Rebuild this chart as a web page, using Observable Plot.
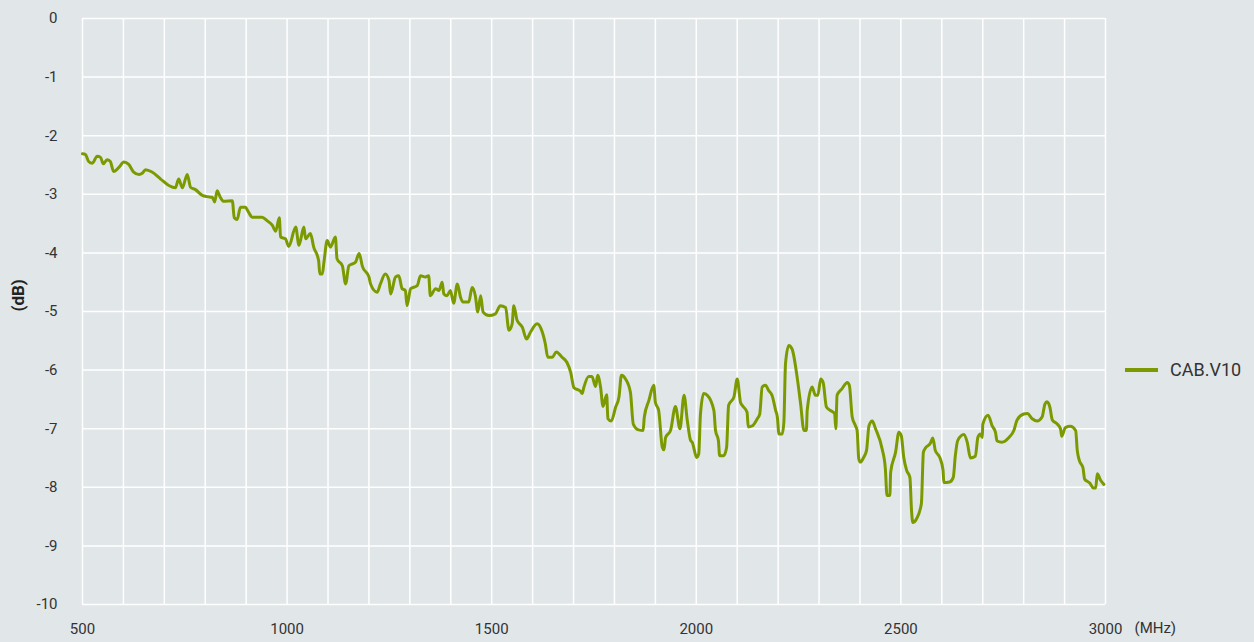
<!DOCTYPE html>
<html><head><meta charset="utf-8">
<script src="https://cdn.jsdelivr.net/npm/d3@7"></script>
<script src="https://cdn.jsdelivr.net/npm/@observablehq/plot@0.6"></script>
<style>
html,body{margin:0;padding:0;background:#e1e6e9;}
#wrap{position:relative;width:1254px;height:642px;font-family:Roboto,"Noto Sans",sans-serif;}
#legend{position:absolute;left:1125px;top:359px;display:flex;align-items:center;font-size:18px;color:#333;}
#legend .sw{display:inline-block;width:33px;height:4px;background:#7c9a00;margin-right:12px;}
</style></head><body><div id="wrap"></div>
<script>
const seriesName = "CAB.V10";
const freqMHz = [500,507,515,524,536,544,551,560,568,576,589,601,613,625,638,646,654,670,691,711,727,735,744,756,764,776,793,805,817,823,829,836,845,866,871,878,886,898,906,915,939,951,964,972,981,984,996,1004,
1021,1029,1041,1045,1057,1065,1077,1080,1086,1090,1098,1106,1118,1122,1135,1143,1151,1167,1176,1184,1200,1204,1220,1228,1240,1249,1253,1265,1273,1281,1289,1293,1302,1318,1326,1338,1346,1350,1363,1371,1379,1383,1391,1399,1407,1416,1424,1430,1444,1452,1460,1466,1473,1479,1493,1509,1521,1534,1542,1550,1554,1562,1575,1585,1595,1611,1621,1631,1637,1648,1658,1672,1684,1693,1701,1717,1721,1725,1737,1745,1754,1759,1766,1772,1781,1784,1792,1803,1811,1817,1827,1839,1846,1859,1870,1873,1884,1896,1900,1908,1917,1921,1925,1937,1949,1960,1970,1978,1986,1990,2001,2006,2010,2018,2027,2043,2047,2054,2057,2067,2074,2079,2092,2100,2108,2112,2124,2127,2137,2149,2155,2161,2169,2177,2185,2194,2198,2202,2210,2214,2218,2226,2234,2247,2255,2263,2269,2271,2283,2291,2297,2304,2310,2318,2328,2338,2341,2344,2356,2369,2374,2381,2389,2393,2397,2401,2409,2416,2422,2430,2438,2454,2462,2466,2473,2475,2487,2495,2501,2507,2514,2522,2526,2529,2538,2550,2555,2560,2572,2578,2584,2595,2603,2605,2619,2628,2633,2639,2654,2662,2670,2682,2688,2694,2699,2700,2713,2723,2731,2735,2747,2764,2776,2784,2800,2809,2821,2833,2845,2852,2857,2864,2870,2882,2890,2893,2902,2914,2927,2931,2936,2945,2949,2962,2970,2976,2980,2988,2996];
const lossDB = [-2.31,-2.32,-2.44,-2.47,-2.35,-2.37,-2.48,-2.41,-2.44,-2.61,-2.54,-2.45,-2.49,-2.62,-2.66,-2.64,-2.58,-2.62,-2.74,-2.85,-2.89,-2.74,-2.89,-2.66,-2.88,-2.92,-3.02,-3.04,-3.05,-3.13,-2.94,-3.04,-3.12,-3.11,-3.40,-3.43,-3.22,-3.22,-3.31,-3.39,-3.39,-3.45,-3.53,-3.63,-3.40,-3.73,-3.76,-3.89,
-3.56,-3.87,-3.56,-3.76,-3.67,-3.90,-4.13,-4.36,-4.36,-4.16,-3.79,-3.90,-3.73,-4.10,-4.22,-4.53,-4.22,-4.16,-4.01,-4.23,-4.41,-4.53,-4.67,-4.53,-4.36,-4.47,-4.70,-4.41,-4.39,-4.61,-4.64,-4.90,-4.61,-4.56,-4.39,-4.41,-4.39,-4.73,-4.61,-4.64,-4.50,-4.70,-4.73,-4.64,-4.86,-4.53,-4.76,-4.84,-4.84,-4.59,-4.73,-5.01,-4.73,-5.01,-5.07,-5.04,-4.90,-4.93,-5.32,-5.21,-4.90,-5.15,-5.27,-5.47,-5.35,-5.21,-5.30,-5.55,-5.78,-5.78,-5.69,-5.78,-5.87,-6.04,-6.30,-6.36,-6.40,-6.30,-6.11,-6.11,-6.28,-6.09,-6.29,-6.62,-6.42,-6.83,-6.87,-6.63,-6.46,-6.09,-6.15,-6.38,-6.92,-7.02,-7.03,-6.80,-6.52,-6.26,-6.55,-6.69,-7.32,-7.36,-7.15,-7.03,-6.62,-7.00,-6.43,-6.86,-7.20,-7.23,-7.49,-7.43,-6.77,-6.40,-6.43,-6.69,-7.03,-7.20,-7.46,-7.46,-7.32,-6.60,-6.46,-6.15,-6.55,-6.60,-6.72,-6.97,-6.95,-6.83,-6.75,-6.29,-6.26,-6.35,-6.43,-6.69,-6.80,-7.09,-7.09,-6.89,-5.89,-5.58,-5.64,-6.15,-6.58,-7.03,-7.03,-6.69,-6.29,-6.43,-6.43,-6.15,-6.21,-6.63,-6.69,-6.74,-7.00,-6.43,-6.32,-6.21,-6.26,-6.80,-6.95,-7.03,-7.51,-7.57,-7.49,-7.37,-6.95,-6.87,-7.00,-7.34,-7.68,-8.14,-8.14,-7.74,-7.40,-7.06,-7.12,-7.49,-7.71,-7.83,-8.40,-8.60,-8.54,-8.28,-7.40,-7.33,-7.25,-7.16,-7.37,-7.49,-7.71,-7.92,-7.91,-7.83,-7.46,-7.20,-7.10,-7.23,-7.50,-7.47,-7.15,-7.09,-7.15,-6.93,-6.77,-6.95,-7.06,-7.21,-7.23,-7.15,-7.03,-6.85,-6.75,-6.74,-6.83,-6.87,-6.80,-6.58,-6.54,-6.63,-6.85,-6.92,-7.00,-7.13,-6.98,-6.96,-7.03,-7.37,-7.54,-7.67,-7.86,-7.93,-8.01,-8.01,-7.77,-7.88,-7.95];
const xTickLabels = [500,1000,1500,2000,2500,3000];
const xGrid = [500,600,700,800,900,1000,1100,1200,1300,1400,1500,1600,1700,1800,1900,2000,2100,2200,2300,2400,2500,2600,2700,2800,2900,3000];
const yTicks = [0,-1,-2,-3,-4,-5,-6,-7,-8,-9,-10];
const xUnit = "(MHz)";
const yUnit = "(dB)";

const lineColor = "#7c9a00";
const data = freqMHz.map((f, i) => ({f, v: lossDB[i]}));

const chart = Plot.plot({
  width: 1254, height: 642,
  marginLeft: 82, marginRight: 149, marginTop: 18, marginBottom: 38,
  style: {background: "transparent", fontFamily: "Roboto, 'Noto Sans', sans-serif", fontSize: "15px", color: "#333", overflow: "visible"},
  x: {domain: [500, 3000]},
  y: {domain: [-10, 0]},
  marks: [
    Plot.gridX(xGrid, {stroke: "#fff", strokeOpacity: 1, strokeWidth: 1.5}),
    Plot.gridY(yTicks, {stroke: "#fff", strokeOpacity: 1, strokeWidth: 1.5}),
    Plot.line(data, {x: "f", y: "v", stroke: lineColor, strokeWidth: 3, curve: "monotone-x"}),
    Plot.axisX(xTickLabels, {tickSize: 0, tickPadding: 19, tickFormat: d => String(d), label: null, fill: "#333", fontSize: 15}),
    Plot.axisY(yTicks, {tickSize: 0, tickPadding: 25, tickFormat: d => String(d), label: null, fill: "#333", fontSize: 15}),
    Plot.text([xUnit], {frameAnchor: "bottom-right", dx: 29, dy: 28, textAnchor: "start", fill: "#333", fontSize: 15}),
    Plot.text([yUnit], {frameAnchor: "left", dx: -64, rotate: -90, fontWeight: "bold", fontSize: 17, fill: "#222"})
  ]
});
const wrap = document.getElementById("wrap");
wrap.appendChild(chart);
const lg = document.createElement("div");
lg.id = "legend";
lg.innerHTML = `<span class="sw"></span><span>${seriesName}</span>`;
wrap.appendChild(lg);
</script></body></html>
